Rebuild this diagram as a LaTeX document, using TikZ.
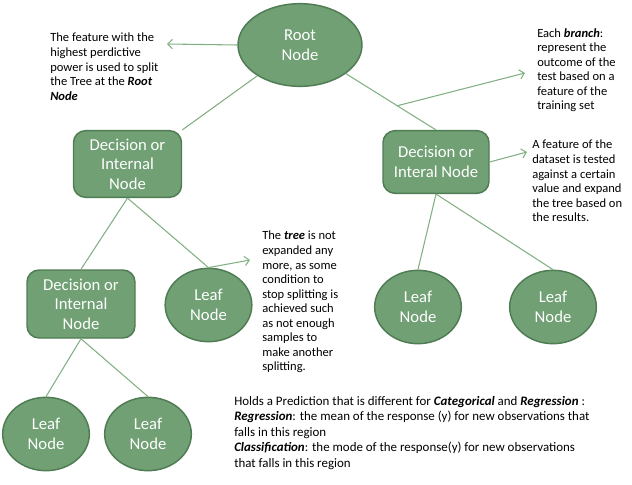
\documentclass[tikz,border=0pt]{standalone}
\usepackage{fontspec}
\setmainfont{Carlito}
\usetikzlibrary{shapes.geometric, arrows.meta, positioning, calc}
\definecolor{nodegreen}{RGB}{112,160,116}
\definecolor{nodeedge}{RGB}{80,124,84}
\definecolor{linegreen}{RGB}{130,176,132}

\begin{document}
\begin{tikzpicture}[
    x=0.75pt, y=-0.75pt,
    leaf/.style={ellipse, draw=nodeedge, line width=1.1pt, fill=nodegreen, text=white, inner sep=0pt, minimum width=65pt, minimum height=55pt, align=center, font=\fontsize{12.5}{14.6}\selectfont},
    decision/.style={rectangle, rounded corners=9pt, draw=nodeedge, line width=1.1pt, fill=nodegreen, text=white, inner sep=0pt, minimum width=81pt, minimum height=50pt, align=center, font=\fontsize{12.5}{14.6}\selectfont},
    note/.style={anchor=north west, inner sep=0pt, align=left, font=\fontsize{9.4}{10.9}\selectfont},
    edge/.style={draw=linegreen, line width=0.8pt},
    arrow/.style={draw=linegreen, line width=0.8pt, ->, >={Straight Barb[length=3.5pt,width=7pt]}}
]
\useasboundingbox (0,0) rectangle (632,485);

% Tree nodes
\node[leaf, minimum width=93pt, minimum height=62pt] (root) at (300,45) {Root\\Node};
\node[decision] (dl) at (127.5,164) {Decision or\\Internal\\Node};
\node[decision, minimum width=79.5pt, minimum height=47pt] (dr) at (436,162) {Decision or\\Interal Node};
\node[decision, minimum height=51pt] (dll) at (81,304) {Decision or\\Internal\\Node};
\node[leaf] (lm) at (208.5,305) {Leaf\\Node};
\node[leaf] (lr1) at (418,307) {Leaf\\Node};
\node[leaf] (lr2) at (553,307) {Leaf\\Node};
\node[leaf] (lb1) at (46,434) {Leaf\\Node};
\node[leaf] (lb2) at (148,434) {Leaf\\Node};

% Branches
\draw[edge] (root) -- (dl.north east);
\draw[edge] (root) -- coordinate[pos=0.57] (branchpt) (dr.north);
\draw[edge] (dl.south) -- (dll.north);
\draw[edge] (dl.south) -- (lm.north);
\draw[edge] (dll.south) -- (lb1.north);
\draw[edge] (dll.south) -- (lb2.north);
\draw[edge] (dr.south) -- (lr1.north);
\draw[edge] (dr.south) -- (lr2.north);

% Notes
\node[note] (rootnote) at (50,33) {The feature with the\\highest perdictive\\power is used to split\\the Tree at the \textbf{\textit{Root}}\\\textbf{\textit{Node}}};
\node[note] (branchnote) at (537,28) {Each \textbf{\textit{branch}}:\\represent the\\outcome of the\\test based on a\\feature of the\\training set};
\node[note] (testnote) at (532,140) {A feature of the\\dataset is tested\\against a certain\\value and expand\\the tree based on\\the results.};
\node[note] (stopnote) at (262,231) {The \textbf{\textit{tree}} is not\\expanded any\\more, as some\\condition to\\stop splitting is\\achieved such\\as not enough\\samples to\\make another\\splitting.};
\node[note, font=\fontsize{9.7}{11.6}\selectfont] (prednote) at (234,396) {Holds a Prediction that is different for \textbf{\textit{Categorical}} and \textbf{\textit{Regression}} :\\\textbf{\textit{Regression}}: the mean of the response (y) for new observations that\\falls in this region\\\textbf{\textit{Classification}}: the mode of the response(y) for new observations\\that falls in this region};

% Pointers to notes
\coordinate (roottip) at (167,44);
\coordinate (branchtip) at (525,73);
\coordinate (testtip) at (527,152);
\coordinate (stoptip) at (250,260);
\draw[arrow] (root.west) -- (roottip);
\draw[arrow] (branchpt) -- (branchtip);
\draw[arrow] (dr.east) -- (testtip);
\draw[arrow] (lm.north) -- (stoptip);

\end{tikzpicture}
\end{document}
